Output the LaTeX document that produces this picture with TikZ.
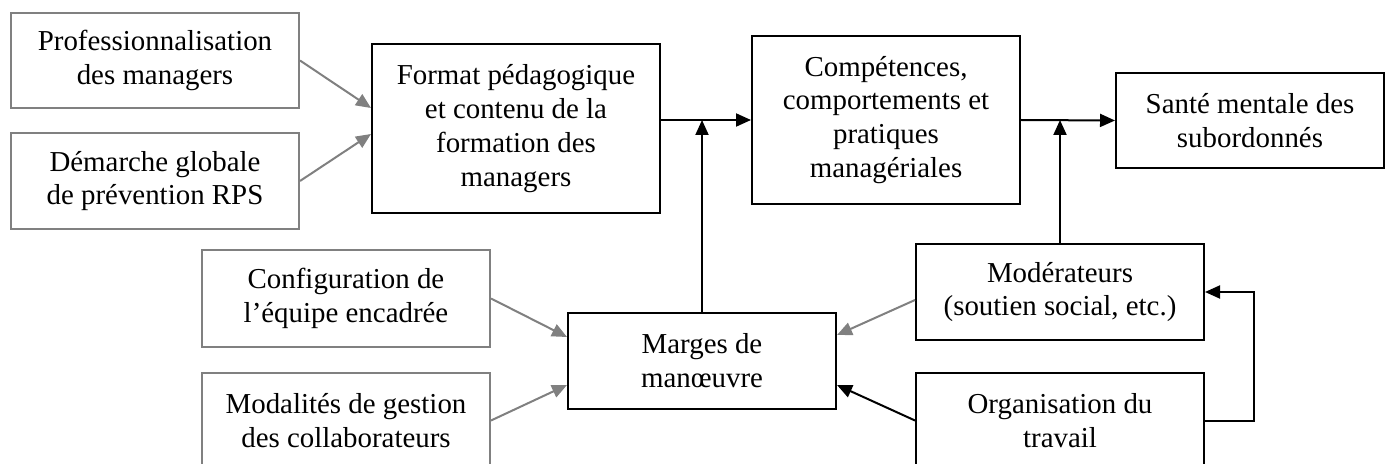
\documentclass[tikz,border=0pt]{standalone}
\usepackage{fontspec}
\setmainfont{Liberation Serif}
\usetikzlibrary{arrows.meta}
\definecolor{boxgray}{RGB}{128,128,128}
\tikzset{
  base/.style={draw, line width=2bp, align=center, inner sep=0pt, anchor=north west,
    font=\fontsize{29}{34}\selectfont, text=black},
  blackbox/.style={base, draw=black},
  graybox/.style={base, draw=boxgray},
  arr/.style={line width=2bp, -{Triangle[length=15bp,width=13bp]}},
  blackarr/.style={arr, draw=black},
  grayarr/.style={arr, draw=boxgray}
}
\begin{document}
\begin{tikzpicture}[x=1bp, y=-1bp]
\useasboundingbox (0,0) rectangle (1389,464);
\clip (0,0) rectangle (1389,464);
% grey input boxes
\node[graybox, minimum width=288bp, minimum height=95bp] (prof) at (10,12) {Professionnalisation\\des managers};
\node[graybox, minimum width=288bp, minimum height=96bp] (dem) at (10,132) {Démarche globale\\de prévention RPS};
\node[graybox, minimum width=288bp, minimum height=97bp] (config) at (201,249) {Configuration de\\l’équipe encadrée};
\node[graybox, minimum width=288bp, minimum height=95bp] (modal) at (201,372) {Modalités de gestion\\des collaborateurs};
% black boxes
\node[blackbox, minimum width=288bp, minimum height=169bp] (format) at (371,43) {Format pédagogique\\et contenu de la\\formation des\\managers};
\node[blackbox, minimum width=268bp, minimum height=168bp] (comp) at (751,35) {Compétences,\\comportements et\\pratiques\\managériales};
\node[blackbox, minimum width=268bp, minimum height=95bp] (sante) at (1115,72) {Santé mentale des\\subordonnés};
\node[blackbox, minimum width=268bp, minimum height=96bp] (marges) at (567,312) {Marges de\\manœuvre};
\node[blackbox, minimum width=288bp, minimum height=96bp] (moder) at (915,243) {Modérateurs\\(soutien social, etc.)};
\node[blackbox, minimum width=288bp, minimum height=95bp] (orga) at (915,372) {Organisation du\\travail};
% grey arrows
\draw[grayarr] (prof.east) -- ([yshift=20.5bp]format.west);
\draw[grayarr] (dem.east) -- ([yshift=-5.5bp]format.west);
\draw[grayarr] (config.east) -- ([yshift=24bp]marges.west);
\draw[grayarr] (modal.east) -- ([yshift=-24bp]marges.west);
\draw[grayarr] ([yshift=-8bp]moder.west) -- ([yshift=26bp]marges.east);
% black arrows
\draw[blackarr] (orga.west) -- ([yshift=-24bp]marges.east);
\draw[blackarr] (orga.east) -- ++(49,0) |- (moder.east);
\draw[blackarr] (comp.west -| format.east) -- (comp.west);
\draw[blackarr] (comp.east) -- (sante.west);
\draw[blackarr] (marges.north) -- (marges.north |- comp.west);
\draw[blackarr] (moder.north) -- (moder.north |- comp.east);
\end{tikzpicture}
\end{document}
